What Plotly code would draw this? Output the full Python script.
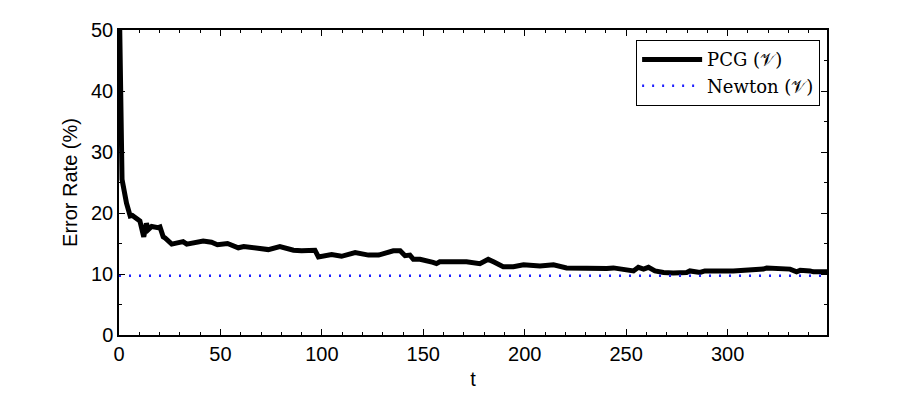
import plotly.graph_objects as go

# PCG error rate over iterations
t_pcg = [0, 1, 1.5, 3.7, 5.5, 6.6, 8.7, 10.3, 12.2, 13.5, 14.5, 16.1, 19.3, 20.2,
         21.8, 22.7, 26, 28.4, 31.6, 33.4, 35.8, 38.2, 41.5, 45.6, 48.5, 53.5,
         56.4, 58.8, 61.5, 66.5, 69.4, 73.6, 79.3, 82.6, 86, 90, 96.6, 98.3,
         104.8, 109.7, 116.4, 123, 128, 135.2, 138.6, 141, 143.4, 145.1, 148.4,
         154.8, 156.5, 158.1, 168, 171.3, 177.9, 182, 184.6, 189.4, 194.4, 199.4,
         207.5, 214.2, 220.6, 230.5, 240.4, 243.7, 250.3, 253.6, 256, 258.6, 261,
         264.2, 268.4, 273.2, 279.8, 281.4, 286.4, 288.8, 302.8, 309.4, 317.6,
         319.3, 330.8, 334, 335.8, 340.6, 342.3, 349]
err_pcg = [58, 30, 25.5, 21.6, 19.5, 19.6, 19.0, 18.7, 16.1, 18.3, 17.3, 17.8, 17.6, 17.7,
           16.1, 15.9, 14.9, 15.1, 15.3, 14.9, 15.0, 15.1, 15.4, 15.2, 14.8, 15.0,
           14.6, 14.3, 14.5, 14.3, 14.3, 14.0, 14.5, 14.2, 13.9, 13.8, 13.9, 12.8,
           13.2, 12.9, 13.5, 13.1, 13.1, 13.8, 13.8, 13.0, 13.1, 12.4, 12.4,
           11.9, 11.7, 12.0, 12.1, 12.0, 11.7, 12.4, 12.0, 11.2, 11.2, 11.5,
           11.3, 11.5, 11.0, 10.9, 10.9, 11.0, 10.8, 10.5, 11.1, 10.8, 11.1,
           10.5, 10.25, 10.15, 10.25, 10.5, 10.25, 10.5, 10.5, 10.6, 10.8,
           11.0, 10.8, 10.35, 10.6, 10.5, 10.35, 10.35]

t_newton = [0, 349]
err_newton = [9.7, 9.7]

x_ticks = [0, 50, 100, 150, 200, 250, 300]
y_ticks = [0, 10, 20, 30, 40, 50]

fig = go.Figure()

fig.add_trace(go.Scatter(x=t_pcg, y=err_pcg, mode="lines", name="PCG (𝒱)",
                         line=dict(color="black", width=5)))
fig.add_trace(go.Scatter(x=t_newton, y=err_newton, mode="lines", name="Newton (𝒱)",
                         line=dict(color="#1f1fff", width=2.5, dash="2px,8px")))

axis_style = dict(showline=True, linecolor="black", linewidth=1.5, mirror="ticks",
                  ticks="inside", ticklen=6, tickcolor="black", showgrid=False,
                  zeroline=False, automargin=False,
                  tickfont=dict(family="Liberation Sans", size=20, color="black"))

fig.update_xaxes(range=[0, 349], tickvals=x_ticks,
                 minor=dict(ticks="inside", dtick=10, ticklen=3, tickcolor="black"),
                 title=dict(text="t", font=dict(family="Liberation Sans", size=20, color="black"),
                            standoff=8),
                 **axis_style)
fig.update_yaxes(range=[0, 50], tickvals=y_ticks,
                 minor=dict(ticks="inside", dtick=5, ticklen=3, tickcolor="black"),
                 title=dict(text="Error Rate (%)", font=dict(family="Liberation Sans", size=20, color="black"),
                            standoff=8),
                 **axis_style)

# page body adds an 8px offset, so margins are shifted to compensate
fig.update_layout(
    width=913, height=394,
    margin=dict(l=111, r=94, t=22, b=67),
    plot_bgcolor="white", paper_bgcolor="white",
    legend=dict(x=0.99, y=0.967, xanchor="right", yanchor="top",
                bordercolor="black", borderwidth=1.2, bgcolor="white",
                font=dict(family="DejaVu Serif", size=18, color="black"),
                tracegroupgap=0, itemwidth=60),
)

fig.write_html("out.html")
